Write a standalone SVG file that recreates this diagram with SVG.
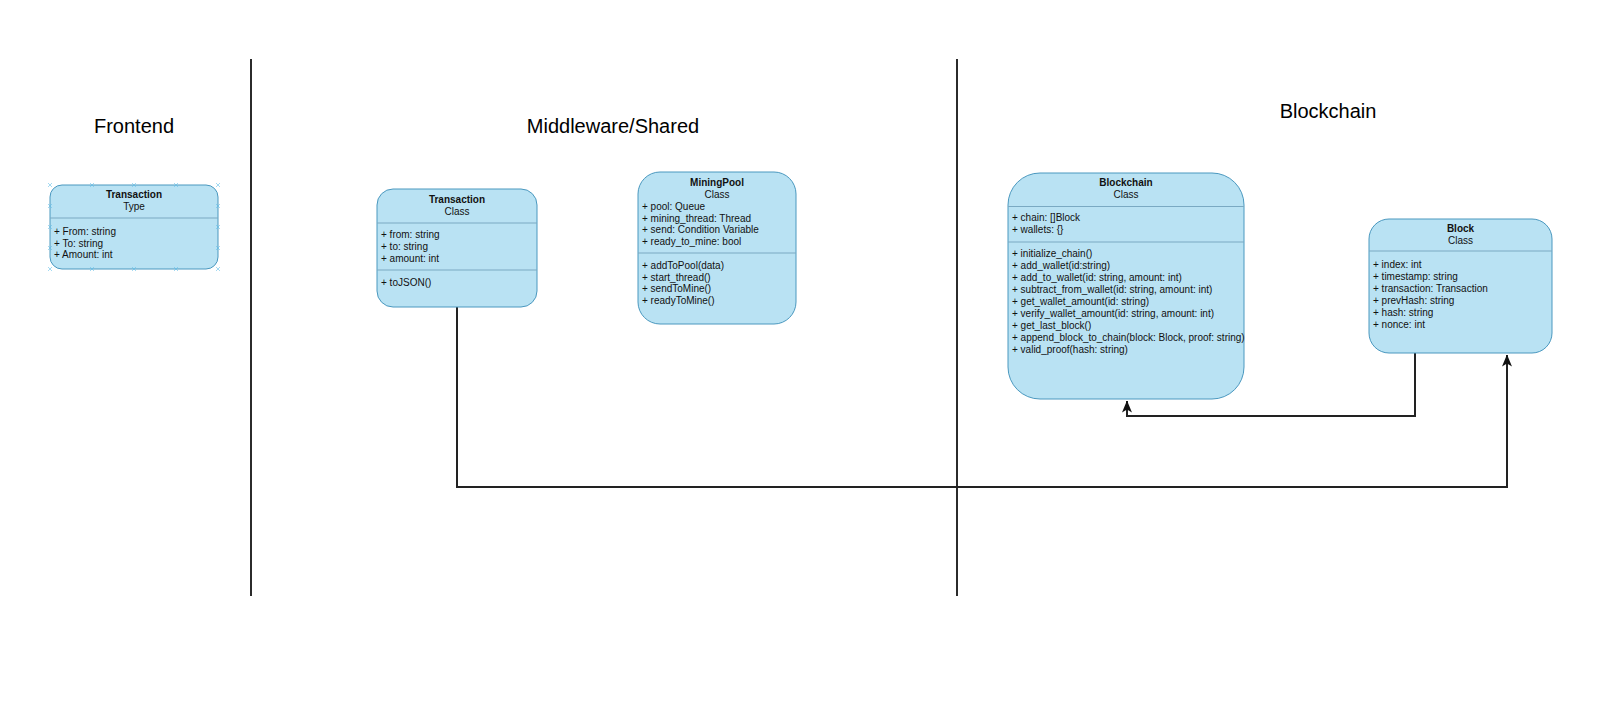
<svg xmlns="http://www.w3.org/2000/svg" width="1600" height="704" viewBox="0 0 1600 704">
<style>
  .box { fill: #b9e2f3; stroke: #4a98bf; stroke-width: 1; }
  .sep { stroke: #7aa9c2; stroke-width: 1; }
  .t { font-family: "Liberation Sans", Arial, sans-serif; font-size: 10px; fill: #111; }
  .b { font-weight: bold; }
  .c { text-anchor: middle; }
  .h { font-family: "Liberation Sans", Arial, sans-serif; font-size: 20px; fill: #000; text-anchor: middle; }
  .div { stroke: #2b2b2b; stroke-width: 2; fill: none; }
  .edge { stroke: #222; stroke-width: 2; fill: none; }
  .x { stroke: #5dbde9; stroke-width: 0.7; fill: none; opacity: 0.8; }
</style>
<defs>
  <marker id="arr" viewBox="0 0 12 12" refX="11.5" refY="6" markerWidth="12" markerHeight="12" orient="auto" markerUnits="userSpaceOnUse">
    <path d="M0,1 L12,6 L0,11 L3,6 z" fill="#111"/>
  </marker>
</defs>
<rect width="1600" height="704" fill="#ffffff"/>

<g id="dividers">
  <line class="div" x1="251" y1="59" x2="251" y2="596"/>
  <line class="div" x1="957" y1="59" x2="957" y2="596"/>
</g>

<g id="section-titles">
  <text class="h" x="134" y="133">Frontend</text>
  <text class="h" x="613" y="133">Middleware/Shared</text>
  <text class="h" x="1328" y="118">Blockchain</text>
</g>

<g id="connectors">
  <path class="edge" d="M1415,353 V416 H1127 V401" marker-end="url(#arr)"/>
  <path class="edge" d="M457,307 V487 H1507 V355" marker-end="url(#arr)"/>
</g>

<g id="frontend-transaction">
  <rect class="box" x="50" y="185" width="168" height="84" rx="12"/>
  <line class="sep" x1="50" y1="218" x2="218" y2="218"/>
  <text class="t b c" x="134" y="198">Transaction</text>
  <text class="t c" x="134" y="210">Type</text>
  <text class="t" x="54" y="235">+ From: string</text>
  <text class="t" x="54" y="246.5">+ To: string</text>
  <text class="t" x="54" y="258">+ Amount: int</text>
  <g class="x">
    <path d="M48,183 l4,4 m0,-4 l-4,4"/><path d="M90,183 l4,4 m0,-4 l-4,4"/><path d="M132,183 l4,4 m0,-4 l-4,4"/><path d="M174,183 l4,4 m0,-4 l-4,4"/><path d="M216,183 l4,4 m0,-4 l-4,4"/>
    <path d="M48,267 l4,4 m0,-4 l-4,4"/><path d="M90,267 l4,4 m0,-4 l-4,4"/><path d="M132,267 l4,4 m0,-4 l-4,4"/><path d="M174,267 l4,4 m0,-4 l-4,4"/><path d="M216,267 l4,4 m0,-4 l-4,4"/>
    <path d="M48,204 l4,4 m0,-4 l-4,4"/><path d="M48,225 l4,4 m0,-4 l-4,4"/><path d="M48,246 l4,4 m0,-4 l-4,4"/>
    <path d="M216,204 l4,4 m0,-4 l-4,4"/><path d="M216,225 l4,4 m0,-4 l-4,4"/><path d="M216,246 l4,4 m0,-4 l-4,4"/>
  </g>
</g>

<g id="middleware-transaction">
  <rect class="box" x="377" y="189" width="160" height="118" rx="16"/>
  <line class="sep" x1="377" y1="223" x2="537" y2="223"/>
  <line class="sep" x1="377" y1="270" x2="537" y2="270"/>
  <text class="t b c" x="457" y="203">Transaction</text>
  <text class="t c" x="457" y="215">Class</text>
  <text class="t" x="381" y="238">+ from: string</text>
  <text class="t" x="381" y="250">+ to: string</text>
  <text class="t" x="381" y="262">+ amount: int</text>
  <text class="t" x="381" y="286">+ toJSON()</text>
</g>

<g id="miningpool">
  <rect class="box" x="638" y="172" width="158" height="152" rx="22"/>
  <line class="sep" x1="638" y1="253" x2="796" y2="253"/>
  <text class="t b c" x="717" y="186">MiningPool</text>
  <text class="t c" x="717" y="198">Class</text>
  <text class="t" x="642" y="210">+ pool: Queue</text>
  <text class="t" x="642" y="221.7">+ mining_thread: Thread</text>
  <text class="t" x="642" y="233.4">+ send: Condition Variable</text>
  <text class="t" x="642" y="245">+ ready_to_mine: bool</text>
  <text class="t" x="642" y="269">+ addToPool(data)</text>
  <text class="t" x="642" y="280.7">+ start_thread()</text>
  <text class="t" x="642" y="292.4">+ sendToMine()</text>
  <text class="t" x="642" y="304">+ readyToMine()</text>
</g>

<g id="blockchain">
  <rect class="box" x="1008" y="173" width="236" height="226" rx="32"/>
  <line class="sep" x1="1008" y1="206.5" x2="1244" y2="206.5"/>
  <line class="sep" x1="1008" y1="242" x2="1244" y2="242"/>
  <text class="t b c" x="1126" y="186">Blockchain</text>
  <text class="t c" x="1126" y="198">Class</text>
  <text class="t" x="1012" y="221">+ chain: []Block</text>
  <text class="t" x="1012" y="233">+ wallets: {}</text>
  <text class="t" x="1012" y="257">+ initialize_chain()</text>
  <text class="t" x="1012" y="269">+ add_wallet(id:string)</text>
  <text class="t" x="1012" y="281">+ add_to_wallet(id: string, amount: int)</text>
  <text class="t" x="1012" y="293">+ subtract_from_wallet(id: string, amount: int)</text>
  <text class="t" x="1012" y="305">+ get_wallet_amount(id: string)</text>
  <text class="t" x="1012" y="317">+ verify_wallet_amount(id: string, amount: int)</text>
  <text class="t" x="1012" y="329">+ get_last_block()</text>
  <text class="t" x="1012" y="341">+ append_block_to_chain(block: Block, proof: string)</text>
  <text class="t" x="1012" y="353">+ valid_proof(hash: string)</text>
</g>

<g id="block">
  <rect class="box" x="1369" y="219" width="183" height="134" rx="20"/>
  <line class="sep" x1="1369" y1="251" x2="1552" y2="251"/>
  <text class="t b c" x="1460.5" y="232">Block</text>
  <text class="t c" x="1460.5" y="244">Class</text>
  <text class="t" x="1373" y="268">+ index: int</text>
  <text class="t" x="1373" y="280">+ timestamp: string</text>
  <text class="t" x="1373" y="292">+ transaction: Transaction</text>
  <text class="t" x="1373" y="304">+ prevHash: string</text>
  <text class="t" x="1373" y="316">+ hash: string</text>
  <text class="t" x="1373" y="328">+ nonce: int</text>
</g>
</svg>
